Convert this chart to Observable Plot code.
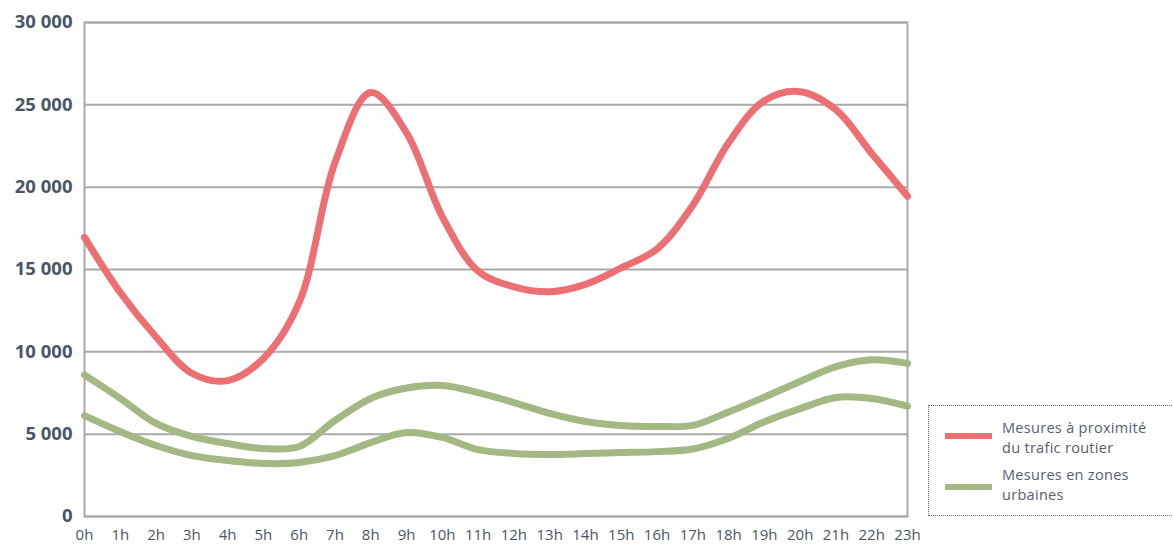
<!DOCTYPE html>
<html>
<head>
<meta charset="utf-8">
<script src="https://cdn.jsdelivr.net/npm/d3@7"></script>
<script src="https://cdn.jsdelivr.net/npm/@observablehq/plot@0.6"></script>
<style>
  body { margin: 0; background: #fff; font-family: "Open Sans", sans-serif; }
  #wrap { position: relative; width: 1173px; height: 544px; overflow: hidden; }
  #legend { position: absolute; left: 928px; top: 405px; width: 270px; height: 111px;
    border: 1px dotted #666; box-sizing: border-box; color: #56606e; font-size: 14.5px; letter-spacing: 0.3px; }
  .sw { position: absolute; left: 16px; width: 47px; height: 6px; }
  .txt { position: absolute; left: 73px; white-space: nowrap; line-height: 20px; height: 20px; }
</style>
</head>
<body>
<div id="wrap">
  <div id="chart"></div>
  <div id="legend"></div>
</div>
<script>
const hours = ["0h","1h","2h","3h","4h","5h","6h","7h","8h","9h","10h","11h","12h","13h","14h","15h","16h","17h","18h","19h","20h","21h","22h","23h"];
const trafic   = [16950,13600,10900,8700,8250,9600,13000,21500,25750,23300,18200,14900,13950,13650,14100,15100,16250,18900,22700,25250,25800,24700,22050,19450];
const urbaines1 = [8600,7170,5650,4860,4430,4130,4250,5830,7170,7800,7950,7520,6920,6260,5770,5530,5470,5530,6350,7250,8200,9100,9520,9300];
const urbaines2 = [6130,5160,4310,3700,3400,3220,3280,3700,4490,5100,4800,4060,3830,3770,3820,3880,3940,4100,4750,5750,6550,7230,7170,6700];
const yTicks = [0,5000,10000,15000,20000,25000,30000];
const seriesColors = ["#ec7073", "#a3b883"];
const legendLines = [["Mesures à proximité", "du trafic routier"], ["Mesures en zones", "urbaines"]];

const rows = (s) => hours.map((h, i) => ({i, h, v: s[i]}));
const fmt = (d) => d3.format(",")(d).replace(/,/g, " ");
const hourIdx = hours.map((h, i) => i);

const chart = Plot.plot({
  width: 1173, height: 544,
  marginLeft: 84, marginRight: 266, marginTop: 22, marginBottom: 28,
  style: { fontFamily: "Open Sans", color: "#4a5668", background: "#fff", overflow: "visible" },
  x: { domain: [0, hours.length - 1], label: null },
  y: { domain: [0, 30000], label: null },
  marks: [
    Plot.gridY(yTicks, { stroke: "#aaa", strokeOpacity: 1, strokeWidth: 2 }),
    Plot.frame({ stroke: "#aaa", strokeWidth: 2 }),
    Plot.axisY(yTicks, { tickSize: 0, tickPadding: 12, fontSize: 18.5, fontWeight: "bold", tickFormat: fmt, fill: "#4a5668" }),
    Plot.axisX(hourIdx, { tickSize: 0, tickPadding: 13, fontSize: 15, fill: "#4a5668", tickFormat: (i) => hours[i] }),
    Plot.line(rows(urbaines2), { x: "i", y: "v", stroke: seriesColors[1], strokeWidth: 7, curve: "catmull-rom", strokeLinecap: "round" }),
    Plot.line(rows(urbaines1), { x: "i", y: "v", stroke: seriesColors[1], strokeWidth: 7, curve: "catmull-rom", strokeLinecap: "round" }),
    Plot.line(rows(trafic), { x: "i", y: "v", stroke: seriesColors[0], strokeWidth: 7, curve: "catmull-rom", strokeLinecap: "round" })
  ]
});
document.getElementById("chart").appendChild(chart);

const legend = document.getElementById("legend");
const swTops = [27, 78];
const txtTops = [[12, 32], [59, 79]];
legendLines.forEach((ln, i) => {
  const sw = document.createElement("div");
  sw.className = "sw";
  sw.style.top = swTops[i] + "px";
  sw.style.background = seriesColors[i];
  legend.appendChild(sw);
  ln.forEach((t, j) => {
    const d = document.createElement("div");
    d.className = "txt";
    d.style.top = txtTops[i][j] + "px";
    d.textContent = t;
    legend.appendChild(d);
  });
});
</script>
</body>
</html>
